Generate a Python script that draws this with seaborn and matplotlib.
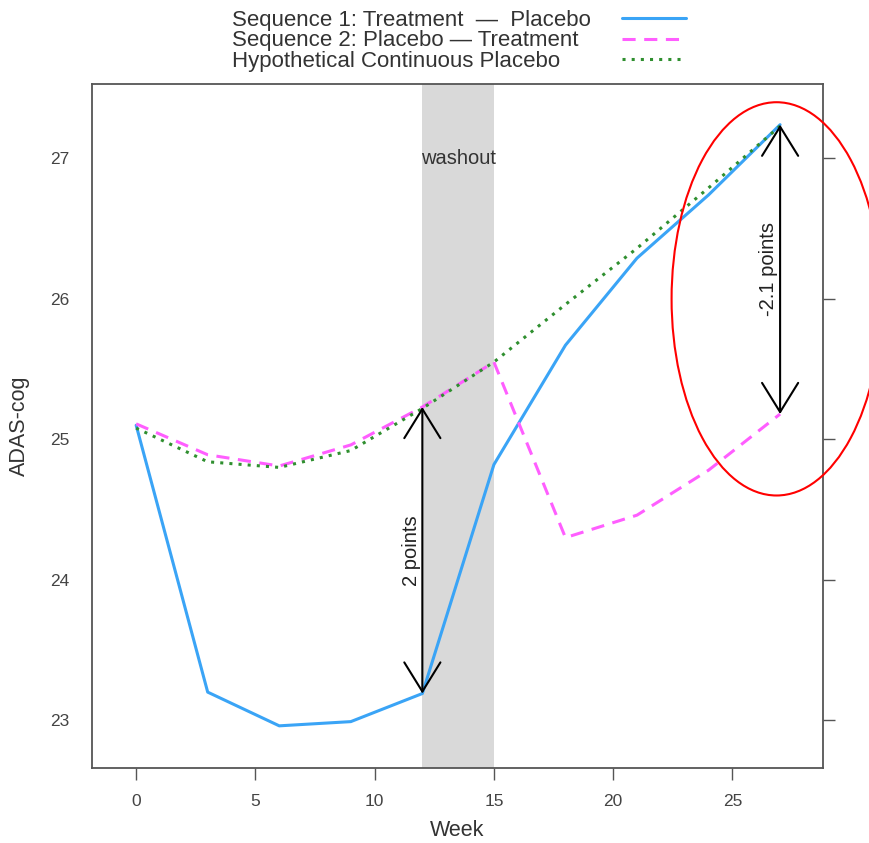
import matplotlib
matplotlib.use("Agg")
import matplotlib.pyplot as plt
from matplotlib.patches import Ellipse
from matplotlib.lines import Line2D
import pandas as pd
import seaborn as sns

# ADAS-cog means by week for the two crossover sequences and the hypothetical placebo arm
weeks = [0, 3, 6, 9, 12, 15, 18, 21, 24, 27]
seq1_treatment_placebo = [25.10, 23.20, 22.96, 22.99, 23.19, 24.82, 25.67, 26.29, 26.74, 27.24]
seq2_placebo_treatment = [25.11, 24.89, 24.81, 24.96, 25.23, 25.55, 24.30, 24.46, 24.78, 25.18]
continuous_placebo = [25.08, 24.84, 24.80, 24.92, 25.22, 25.55, 25.96, 26.36, 26.79, 27.23]

series_names = [
    "Sequence 1: Treatment  \u2014  Placebo",
    "Sequence 2: Placebo \u2014 Treatment",
    "Hypothetical Continuous Placebo",
]
series_colors = ["#3AA4F6", "#FF5EFF", "#2F8F2F"]
washout_weeks = (12, 15)
x_ticks = [0, 5, 10, 15, 20, 25]
y_ticks = [23, 24, 25, 26, 27]

df = pd.concat(
    [
        pd.DataFrame({"Week": weeks, "ADAS-cog": vals, "series": name})
        for name, vals in zip(series_names, [seq1_treatment_placebo, seq2_placebo_treatment, continuous_placebo])
    ],
    ignore_index=True,
)

sns.set_style("white")
plt.rcParams["font.family"] = ["Liberation Sans", "DejaVu Sans"]

fig = plt.figure(figsize=(8.69, 8.43), dpi=100)
ax = fig.add_axes([0.1059, 0.0890, 0.8412, 0.8114])

# washout band
ax.axvspan(*washout_weeks, color="#D9D9D9", lw=0, zorder=0)
ax.text(sum(washout_weeks) / 2, 27.0, "washout", ha="center", va="center",
        fontsize=14.5, color="#333333")

dash_map = {series_names[0]: "", series_names[1]: (4.3, 2.8), series_names[2]: (1.0, 2.0)}
sns.lineplot(data=df, x="Week", y="ADAS-cog", hue="series", style="series",
             hue_order=series_names, style_order=series_names,
             palette=dict(zip(series_names, series_colors)), dashes=dash_map,
             linewidth=2.2, legend=False, ax=ax, zorder=3)
for ln in ax.get_lines():
    ln.set_dash_capstyle("butt")

# difference arrows
arrow_kw = dict(arrowstyle="<->,head_length=21,head_width=13", mutation_scale=1,
                color="black", lw=1.5, shrinkA=0, shrinkB=0)
i12 = weeks.index(12)
ax.annotate("", xy=(12, seq2_placebo_treatment[i12]), xytext=(12, seq1_treatment_placebo[i12]),
            arrowprops=arrow_kw, zorder=5)
ax.text(11.55, (seq1_treatment_placebo[i12] + seq2_placebo_treatment[i12]) / 2, "2 points",
        rotation=90, ha="center", va="center", fontsize=14.5, color="#222222")

i27 = weeks.index(27)
ax.annotate("", xy=(27, seq1_treatment_placebo[i27]), xytext=(27, seq2_placebo_treatment[i27]),
            arrowprops=arrow_kw, zorder=5)
ax.text(26.5, (seq1_treatment_placebo[i27] + seq2_placebo_treatment[i27]) / 2, "-2.1 points",
        rotation=90, ha="center", va="center", fontsize=14.5, color="#222222")

# highlight of the week-27 difference
ax.add_patch(Ellipse((26.85, 26.0), 8.8, 2.80, fill=False, edgecolor="red", lw=1.5,
                     clip_on=False, zorder=6))

ax.set_xlim(-1.85, 28.8)
ax.set_ylim(22.66, 27.53)
ax.set_xticks(x_ticks)
ax.set_yticks(y_ticks)
ax.set_xlabel("Week", fontsize=15.5, color="#333333", labelpad=8)
ax.set_ylabel("ADAS-cog", fontsize=15.5, color="#333333", labelpad=14)
ax.tick_params(axis="both", direction="out", length=8.5, width=1.0, color="#555555",
               labelsize=12.5, labelcolor="#444444", pad=8)
ax.tick_params(axis="y", right=True, labelright=False)
ax.tick_params(axis="x", bottom=True, pad=10)
for sp in ax.spines.values():
    sp.set_color("#555555")
    sp.set_linewidth(1.3)

# legend: labels on the left, line keys in a separate column on the right
legend_top = 1 - 10 / 843
text_handles = [Line2D([], [], lw=0) for _ in series_names]
fig.legend(text_handles, series_names, loc="upper left", bbox_to_anchor=(232 / 869, legend_top),
           frameon=False, fontsize=16, handlelength=0, handletextpad=0, labelspacing=-0.03,
           borderpad=0, borderaxespad=0, labelcolor="#333333")
key_handles = [
    Line2D([], [], color=series_colors[0], lw=2.2),
    Line2D([], [], color=series_colors[1], lw=2.2, dashes=(4.3, 2.8), dash_capstyle="butt"),
    Line2D([], [], color=series_colors[2], lw=2.2, dashes=(1.0, 2.0), dash_capstyle="butt"),
]
fig.legend(key_handles, ["", "", ""], loc="upper left", bbox_to_anchor=(622 / 869, legend_top),
           frameon=False, fontsize=16, handlelength=2.9, handletextpad=0, labelspacing=-0.03,
           borderpad=0, borderaxespad=0)

fig.savefig("out.png", dpi=100)
